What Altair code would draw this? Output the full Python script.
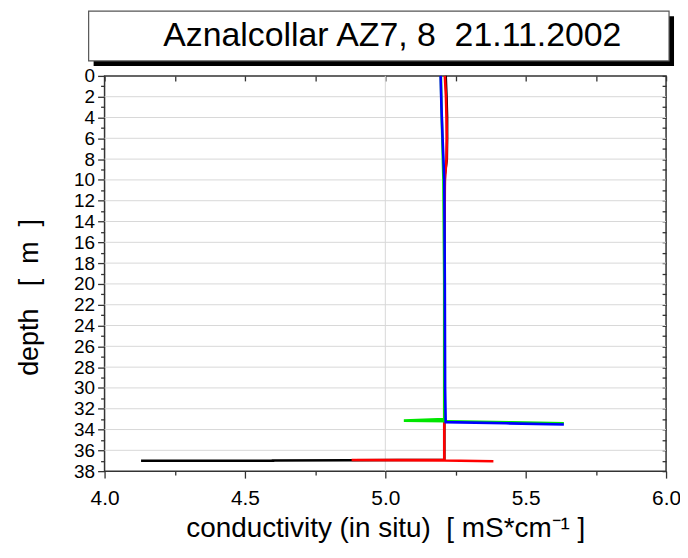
import altair as alt
import pandas as pd

NB = "\u00a0"
title_text = "Aznalcollar AZ7, 8" + NB + " 21.11.2002"
x_title = "conductivity (in situ)" + NB + " [ mS*cm\u207b\u00b9 ]"
y_title = "depth" + NB + NB + " [" + NB + " m" + NB + " ]"

series_names = ["black", "red", "green", "blue"]
series_colors = ["#000000", "#ff0000", "#00e600", "#0000ff"]

black_depth = [0, 2, 4, 6, 8, 9.5, 15, 25, 30, 36.9, 36.95, 36.97, 37.0, 37.0]
black_cond = [5.215, 5.218, 5.22, 5.22, 5.219, 5.212, 5.21, 5.21, 5.21, 5.21, 4.88, 4.6, 4.6, 4.13]

red_depth = [0, 2, 4, 6, 8, 10, 20, 30, 36.9, 36.93, 36.98, 37.05]
red_cond = [5.212, 5.216, 5.218, 5.219, 5.218, 5.212, 5.21, 5.21, 5.21, 4.88, 5.21, 5.385]

green_depth = [0, 3, 6, 10, 20, 30, 33.0, 33.14, 33.2, 33.3, 33.39]
green_cond = [5.198, 5.2, 5.203, 5.207, 5.21, 5.21, 5.21, 5.066, 5.22, 5.45, 5.636]

blue_depth = [0, 3, 6, 10, 20, 30, 33.29, 33.4, 33.52]
blue_cond = [5.197, 5.2, 5.204, 5.21, 5.212, 5.213, 5.215, 5.43, 5.636]

x_tick_values = [4.0, 4.5, 5.0, 5.5, 6.0]
x_minor_values = [4.25, 4.75, 5.25, 5.75]
x_top_values = [4.0, 4.25, 4.5, 4.75, 5.0, 5.25, 5.5, 5.75, 6.0]
x_grid_values = [5.0]
y_tick_values = list(range(0, 39, 2))
y_minor_values = list(range(1, 38, 2))
y_right_values = list(range(0, 39, 1))
y_grid_values = list(range(2, 38, 2))

rows = []
for name, depths, conds in [
    ("black", black_depth, black_cond),
    ("red", red_depth, red_cond),
    ("green", green_depth, green_cond),
    ("blue", blue_depth, blue_cond),
]:
    for i, (d, c) in enumerate(zip(depths, conds)):
        rows.append({"series": name, "depth": d, "cond": c, "step": i})
df = pd.DataFrame(rows)

FONT = "Liberation Sans, Arial, Helvetica, sans-serif"
AX = "#333333"

xs = alt.Scale(domain=[4.0, 6.0], nice=False, zero=False)
ys = alt.Scale(domain=[0, 38], reverse=True, nice=False, zero=False)

common_axis = dict(domain=False, grid=False, tickColor=AX, tickWidth=1.3,
                   labelFont=FONT, titleFont=FONT, labelColor="#000", titleColor="#000",
                   titleFontWeight="normal", labelFlush=False, labelOverlap=False)

hgrid = alt.Chart(pd.DataFrame({"depth": y_grid_values})).mark_rule(
    color="#d8d8d8", strokeWidth=1
).encode(
    y=alt.Y("depth:Q", scale=ys,
            axis=alt.Axis(values=y_minor_values, labels=False, title=None, tickSize=4,
                          orient="left", **common_axis))
)

vgrid = alt.Chart(pd.DataFrame({"cond": x_grid_values})).mark_rule(
    color="#d8d8d8", strokeWidth=1
).encode(
    x=alt.X("cond:Q", scale=xs,
            axis=alt.Axis(values=x_minor_values, labels=False, title=None, tickSize=4,
                          orient="bottom", **common_axis))
)

lines = alt.Chart(df).mark_line(strokeWidth=2.6).encode(
    x=alt.X("cond:Q", scale=xs,
            axis=alt.Axis(values=x_tick_values, format=".1f", title=x_title, tickSize=7,
                          labelFontSize=21, titleFontSize=28, labelPadding=10,
                          titlePadding=6, orient="bottom", **common_axis)),
    y=alt.Y("depth:Q", scale=ys,
            axis=alt.Axis(values=y_tick_values, title=y_title, tickSize=7,
                          labelFontSize=19, titleFontSize=27, labelPadding=3,
                          titlePadding=30, titleY=222, orient="left", **common_axis)),
    color=alt.Color("series:N", scale=alt.Scale(domain=series_names, range=series_colors),
                    legend=None),
    order=alt.Order("step:Q"),
)

frame_ticks = alt.Chart(df).mark_point(opacity=0).encode(
    x=alt.X("cond:Q", scale=xs,
            axis=alt.Axis(values=x_top_values, labels=False, title=None, tickSize=5,
                          offset=-5, orient="top", **common_axis)),
    y=alt.Y("depth:Q", scale=ys,
            axis=alt.Axis(values=y_right_values, labels=False, title=None, tickSize=4,
                          offset=-4, orient="right", **common_axis)),
)

title_df = pd.DataFrame({"t": [title_text]})
shadow = alt.Chart(title_df).mark_rect(color="#000000").encode(
    x=alt.value(-11), x2=alt.value(572), y=alt.value(-60), y2=alt.value(-10)
)
box = alt.Chart(title_df).mark_rect(fill="#ffffff", stroke="#555555", strokeWidth=1.2).encode(
    x=alt.value(-16), x2=alt.value(567), y=alt.value(-65), y2=alt.value(-15)
)
title = alt.Chart(title_df).mark_text(
    font=FONT, fontSize=34, color="#000", align="center", baseline="middle"
).encode(text="t:N", x=alt.value(289), y=alt.value(-40))

chart = alt.layer(hgrid, vgrid, frame_ticks, lines, shadow, box, title).resolve_axis(
    x="independent", y="independent"
).properties(
    width=564, height=397,
    autosize=alt.AutoSizeParams(type="none"),
    padding={"left": 97, "top": 67, "right": 14, "bottom": 75},
).configure_view(stroke=AX, strokeWidth=1.5)

chart.save("out.html", embed_options={"renderer": "svg", "actions": False})
